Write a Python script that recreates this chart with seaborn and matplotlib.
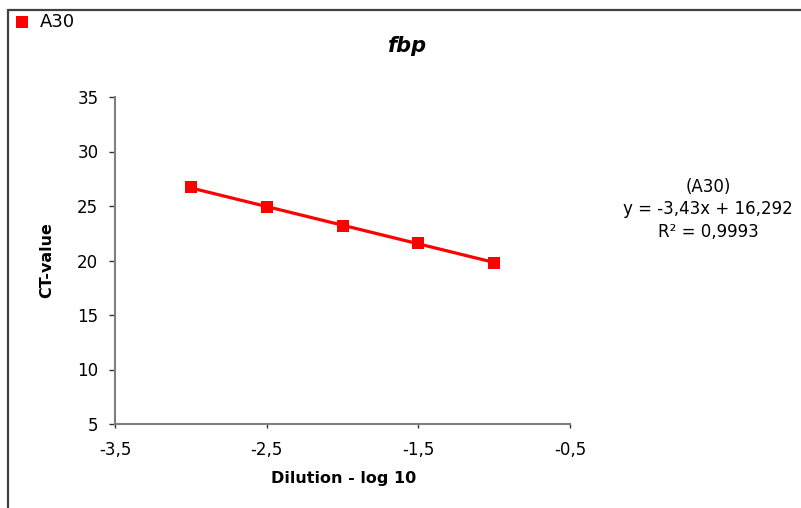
import matplotlib
matplotlib.use("Agg")
import matplotlib.pyplot as plt
from matplotlib.lines import Line2D
from matplotlib.ticker import FuncFormatter
import seaborn as sns
import pandas as pd

# data
dilution = [-3.0, -2.5, -2.0, -1.5, -1.0]
ct_value = [26.7, 24.9, 23.2, 21.6, 19.8]
series_name = "A30"
title = "fbp"
x_ticks = [-3.5, -2.5, -1.5, -0.5]
y_ticks = [5, 10, 15, 20, 25, 30, 35]
eq_lines = ["(A30)", "y = -3,43x + 16,292", "R\u00b2 = 0,9993"]

df = pd.DataFrame({"x": dilution, "y": ct_value})

sns.set_style("white")
plt.rcParams["font.family"] = ["DejaVu Sans"]
plt.rcParams["text.color"] = "black"
plt.rcParams["axes.labelcolor"] = "black"
plt.rcParams["xtick.color"] = "black"
plt.rcParams["ytick.color"] = "black"

W, H = 801, 508
fig = plt.figure(figsize=(W / 100, H / 100), dpi=100)
ax = fig.add_axes([115 / W, 1 - 424 / H, (570 - 115) / W, (424 - 97) / H])

sns.regplot(data=df, x="x", y="y", ax=ax, ci=None, color="#ff0000",
            marker="s", label=series_name,
            scatter_kws=dict(s=64, alpha=1, linewidths=0, zorder=3),
            line_kws=dict(lw=2.3, zorder=2))

ax.set_xlim(-3.5, -0.5)
ax.set_ylim(5, 35)
ax.set_xticks(x_ticks)
ax.set_yticks(y_ticks)
fmt = FuncFormatter(lambda v, p: (f"{v:g}").replace(".", ","))
ax.xaxis.set_major_formatter(fmt)
ax.yaxis.set_major_formatter(fmt)

for s in ["top", "right"]:
    ax.spines[s].set_visible(False)
for s in ["left", "bottom"]:
    ax.spines[s].set_color("#7f7f7f")
    ax.spines[s].set_linewidth(1.5)

ax.tick_params(axis="x", direction="out", length=3, width=1, color="#333333",
               pad=9, labelsize=12, bottom=True, labelcolor="black")
ax.tick_params(axis="y", direction="out", length=4, width=1, color="#333333",
               pad=8, labelsize=12, left=True, labelcolor="black")

ax.set_xlabel("Dilution - log 10", fontsize=11.5, fontweight="bold", color="black")
ax.set_ylabel("CT-value", fontsize=11.5, fontweight="bold", color="black")
ax.xaxis.set_label_coords(0.502, -0.143)
ax.yaxis.set_label_coords(-0.134, 0.5)

fig.text(408 / W, 1 - 46 / H, title, fontsize=15, fontweight="bold",
         fontstyle="italic", ha="center", va="center", color="black")

for i, t in enumerate(eq_lines):
    fig.text(708 / W, 1 - (187 + i * 22.5) / H, t, fontsize=12,
             ha="center", va="center", color="black")

# chart border
fig.add_artist(Line2D([8 / W, 8 / W], [1 - 10 / H, 0], transform=fig.transFigure,
                      color="#404040", lw=1.6))
fig.add_artist(Line2D([8 / W, 1], [1 - 10 / H, 1 - 10 / H], transform=fig.transFigure,
                      color="#404040", lw=1.6))

handles, labels = ax.get_legend_handles_labels()
leg = fig.legend(handles[:1], labels[:1], loc="center left",
                 bbox_to_anchor=(15 / W, 1 - 22 / H), frameon=False,
                 fontsize=13, handlelength=0.8, handletextpad=0.6,
                 borderpad=0, borderaxespad=0, markerscale=1.15)
for t in leg.get_texts():
    t.set_color("black")

fig.savefig("out.png", dpi=100)
